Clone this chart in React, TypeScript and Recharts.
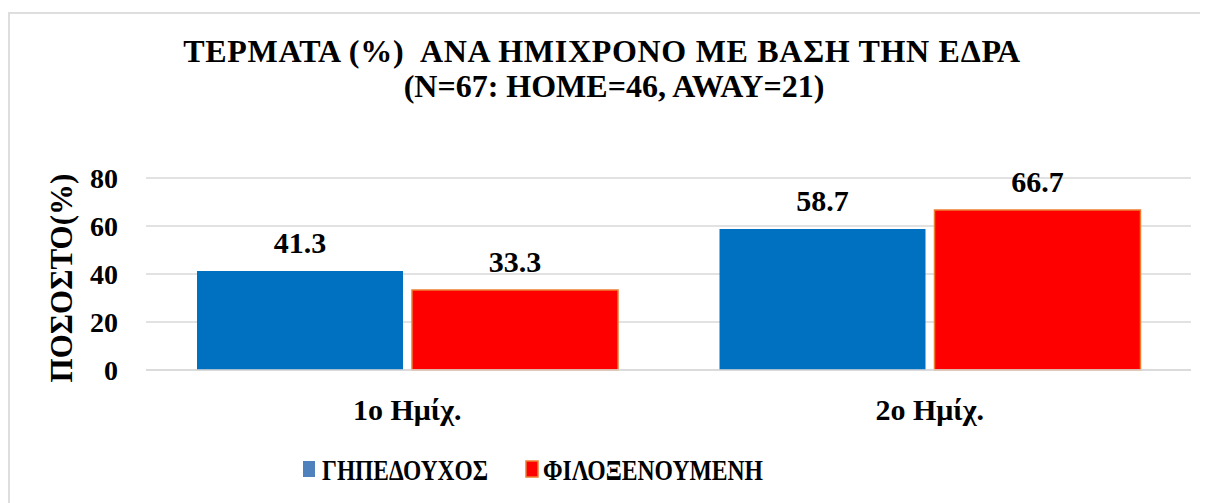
import { BarChart, Bar, XAxis, YAxis, CartesianGrid, LabelList } from 'recharts';

// categories and values
const halves = ['1ο Ημίχ.', '2ο Ημίχ.'];
const homeValues = [41.3, 58.7];
const awayValues = [33.3, 66.7];
const yTicks = [0, 20, 40, 60, 80];

const titleLine1 = 'ΤΕΡΜΑΤΑ (%)  ΑΝΑ ΗΜΙΧΡΟΝΟ ΜΕ ΒΑΣΗ ΤΗΝ ΕΔΡΑ';
const titleLine2 = '(N=67: HOME=46, AWAY=21)';
const yLabel = 'ΠΟΣΟΣΤΟ(%)';
const homeName = 'ΓΗΠΕΔΟΥΧΟΣ';
const awayName = 'ΦΙΛΟΞΕΝΟΥΜΕΝΗ';

const data = halves.map((h, i) => ({ half: h, home: homeValues[i], away: awayValues[i] }));

const FONT = 'Liberation Serif';
const BLUE = '#0070c0';
const RED = '#ff0000';
const ORANGE = '#ed7d31';

// rotated y axis title
const YTitle = () => {
  const cy = 270;
  return (
    <text
      x={64}
      y={cy}
      transform={`rotate(-90, 64, ${cy})`}
      textAnchor="middle"
      fontFamily={FONT}
      fontWeight="bold"
      fontSize={31}
      fill="#000"
    >
      {yLabel}
    </text>
  );
};

export default function App() {
  const legendItems = [
    { name: homeName, fill: '#4f81bd', stroke: 'none', sq: [295, 453, 12, 16], tx: 314, len: 166 },
    { name: awayName, fill: RED, stroke: ORANGE, sq: [518, 453, 12, 16], tx: 535, len: 220 },
  ];

  const titleStyle = {
    position: 'absolute' as const,
    width: 1188,
    textAlign: 'center' as const,
    fontFamily: FONT,
    fontWeight: 'bold' as const,
    fontSize: 32,
    lineHeight: '33px',
    whiteSpace: 'pre' as const,
  };

  return (
    <div style={{ position: 'relative', width: 1200, height: 495, overflow: 'hidden', background: '#fff' }}>
      <div
        style={{
          position: 'absolute',
          left: 0,
          top: 4,
          width: 1300,
          height: 600,
          border: '2px solid #dedede',
          boxSizing: 'border-box',
        }}
      />
      <div style={{ ...titleStyle, left: 0, top: 27, letterSpacing: '0.7px' }}>{titleLine1}</div>
      <div style={{ ...titleStyle, left: 12, top: 62 }}>{titleLine2}</div>

      <div style={{ position: 'absolute', left: 0, top: 0 }}>
        <BarChart
          width={1200}
          height={495}
          data={data}
          margin={{ top: 170, right: 17, left: 0, bottom: 0 }}
          barCategoryGap={51}
          barGap={9}
        >
          <CartesianGrid vertical={false} stroke="#d9d9d9" strokeWidth={1.5} />
          <XAxis
            dataKey="half"
            height={133}
            axisLine={{ stroke: '#d9d9d9', strokeWidth: 1.5 }}
            tickLine={false}
            tickSize={0}
            tickMargin={29}
            tick={{ fill: '#000', fontFamily: FONT, fontWeight: 'bold', fontSize: 30 }}
          />
          <YAxis
            width={138}
            domain={[0, 80]}
            ticks={yTicks}
            axisLine={false}
            tickLine={false}
            tickSize={0}
            tickMargin={28}
            tick={{ fill: '#000', fontFamily: FONT, fontWeight: 'bold', fontSize: 28 }}
            label={<YTitle />}
          />
          <Bar dataKey="home" name={homeName} fill={BLUE} isAnimationActive={false}>
            <LabelList
              dataKey="home"
              position="top"
              offset={18}
              fill="#000"
              fontFamily={FONT}
              fontWeight="bold"
              fontSize={30}
            />
          </Bar>
          <Bar dataKey="away" name={awayName} fill={RED} stroke={ORANGE} strokeWidth={1.5} isAnimationActive={false}>
            <LabelList
              dataKey="away"
              position="top"
              offset={18}
              fill="#000"
              fontFamily={FONT}
              fontWeight="bold"
              fontSize={30}
            />
          </Bar>
        </BarChart>
      </div>

      {/* legend, narrow lettering as in the original */}
      <svg width={1200} height={495} style={{ position: 'absolute', left: 0, top: 0, pointerEvents: 'none' }}>
        {legendItems.map((it) => (
          <g key={it.name}>
            <rect
              x={it.sq[0]}
              y={it.sq[1]}
              width={it.sq[2]}
              height={it.sq[3]}
              fill={it.fill}
              stroke={it.stroke}
              strokeWidth={1.5}
            />
            <text
              x={it.tx}
              y={472}
              textLength={it.len}
              lengthAdjust="spacingAndGlyphs"
              fontFamily={FONT}
              fontWeight="bold"
              fontSize={30}
              fill="#000"
            >
              {it.name}
            </text>
          </g>
        ))}
      </svg>
    </div>
  );
}
